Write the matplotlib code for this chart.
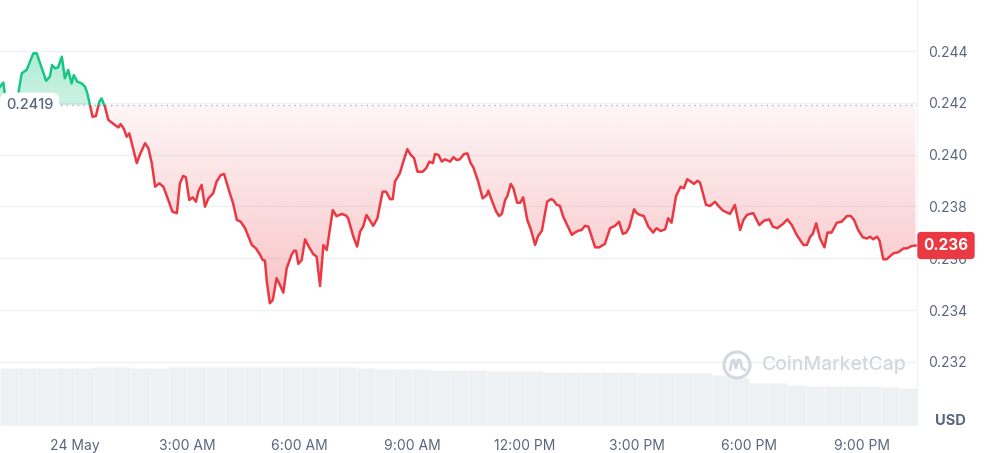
import matplotlib
matplotlib.use("Agg")
import matplotlib.pyplot as plt
import numpy as np
from matplotlib.patches import Rectangle, PathPatch, Ellipse
from matplotlib.path import Path
from matplotlib.lines import Line2D
import matplotlib.transforms as mtransforms

plt.rcParams['font.family'] = ['Inter', 'DejaVu Sans']

# ---------------- data ----------------
# time in hours relative to 24 May 00:00
hours = [
    -2.00, -1.91, -1.84, -1.73, -1.63, -1.51, -1.42, -1.29, -1.11, -1.02,
    -0.93, -0.77, -0.67, -0.61, -0.53, -0.45, -0.35, -0.27, -0.18, -0.09,
    -0.03, 0.06, 0.18, 0.27, 0.33, 0.40, 0.47, 0.56, 0.65, 0.71,
    0.80, 0.89, 1.07, 1.16, 1.22, 1.31, 1.38, 1.45, 1.54, 1.65,
    1.73, 1.87, 1.96, 2.05, 2.14, 2.25, 2.36, 2.49, 2.60, 2.72,
    2.80, 2.89, 2.96, 3.05, 3.14, 3.23, 3.29, 3.38, 3.47, 3.56,
    3.69, 3.78, 3.89, 3.98, 4.12, 4.22, 4.32, 4.42, 4.54, 4.72,
    4.83, 4.94, 5.01, 5.07, 5.12, 5.20, 5.28, 5.38, 5.47, 5.56,
    5.65, 5.78, 5.85, 5.90, 5.96, 6.05, 6.14, 6.25, 6.36, 6.45,
    6.54, 6.63, 6.72, 6.88, 6.98, 7.12, 7.23, 7.29, 7.43, 7.53,
    7.61, 7.69, 7.78, 7.96, 8.07, 8.21, 8.30, 8.41, 8.48, 8.54,
    8.67, 8.75, 8.87, 8.96, 9.05, 9.14, 9.28, 9.37, 9.46, 9.55,
    9.61, 9.70, 9.79, 9.87, 10.01, 10.10, 10.19, 10.27, 10.38, 10.47,
    10.56, 10.63, 10.76, 10.88, 10.99, 11.03, 11.12, 11.24, 11.32, 11.39,
    11.48, 11.54, 11.63, 11.70, 11.80, 11.88, 11.96, 12.07, 12.17, 12.28,
    12.36, 12.46, 12.60, 12.70, 12.76, 12.86, 12.94, 13.03, 13.26, 13.34,
    13.43, 13.52, 13.61, 13.70, 13.76, 13.88, 13.99, 14.14, 14.28, 14.41,
    14.52, 14.62, 14.71, 14.79, 14.92, 14.99, 15.08, 15.18, 15.30, 15.43,
    15.52, 15.63, 15.75, 15.83, 15.92, 16.04, 16.16, 16.25, 16.34, 16.43,
    16.52, 16.61, 16.68, 16.84, 16.95, 17.08, 17.17, 17.29, 17.48, 17.61,
    17.75, 17.84, 17.93, 18.01, 18.10, 18.26, 18.39, 18.53, 18.62, 18.74,
    18.89, 19.01, 19.13, 19.26, 19.44, 19.53, 19.62, 19.69, 19.78, 19.88,
    20.00, 20.08, 20.19, 20.33, 20.46, 20.60, 20.70, 20.79, 20.90, 21.02,
    21.13, 21.22, 21.30, 21.40, 21.47, 21.57, 21.66, 21.84, 21.97, 22.11,
    22.20, 22.33, 22.43]

prices = [
    0.24262, 0.24278, 0.24199, 0.24195, 0.24211, 0.24237, 0.24314, 0.24327, 0.24391, 0.24391,
    0.24353, 0.24285, 0.24301, 0.24346, 0.24333, 0.24337, 0.24378, 0.24295, 0.24327, 0.24275,
    0.24307, 0.24282, 0.24275, 0.24262, 0.24237, 0.24192, 0.24146, 0.24149, 0.24204, 0.24217,
    0.24185, 0.24134, 0.24114, 0.24105, 0.24118, 0.24098, 0.24069, 0.24082, 0.24031, 0.23967,
    0.23999, 0.24044, 0.24024, 0.23967, 0.23876, 0.23889, 0.23876, 0.23825, 0.23780, 0.23774,
    0.23889, 0.23918, 0.23912, 0.23825, 0.23835, 0.23818, 0.23857, 0.23883, 0.23799, 0.23831,
    0.23851, 0.23896, 0.23921, 0.23925, 0.23857, 0.23812, 0.23748, 0.23741, 0.23716, 0.23651,
    0.23638, 0.23613, 0.23593, 0.23591, 0.23510, 0.23426, 0.23439, 0.23523, 0.23497, 0.23467,
    0.23561, 0.23613, 0.23629, 0.23629, 0.23578, 0.23593, 0.23673, 0.23642, 0.23616, 0.23606,
    0.23493, 0.23651, 0.23632, 0.23786, 0.23762, 0.23771, 0.23765, 0.23754, 0.23683, 0.23645,
    0.23703, 0.23722, 0.23767, 0.23725, 0.23754, 0.23857, 0.23857, 0.23828, 0.23828, 0.23896,
    0.23928, 0.23967, 0.24021, 0.23999, 0.23986, 0.23934, 0.23934, 0.23947, 0.23973, 0.23967,
    0.24002, 0.23999, 0.23973, 0.23982, 0.23973, 0.23990, 0.23979, 0.23982, 0.24002, 0.24005,
    0.23967, 0.23951, 0.23896, 0.23831, 0.23844, 0.23861, 0.23825, 0.23780, 0.23763, 0.23771,
    0.23825, 0.23840, 0.23887, 0.23870, 0.23814, 0.23814, 0.23835, 0.23748, 0.23709, 0.23651,
    0.23686, 0.23706, 0.23818, 0.23828, 0.23825, 0.23806, 0.23802, 0.23760, 0.23690, 0.23699,
    0.23706, 0.23709, 0.23725, 0.23722, 0.23696, 0.23642, 0.23642, 0.23655, 0.23716, 0.23725,
    0.23741, 0.23694, 0.23699, 0.23719, 0.23789, 0.23774, 0.23767, 0.23763, 0.23722, 0.23699,
    0.23716, 0.23705, 0.23712, 0.23754, 0.23737, 0.23840, 0.23876, 0.23870, 0.23905, 0.23896,
    0.23887, 0.23899, 0.23892, 0.23806, 0.23802, 0.23818, 0.23802, 0.23784, 0.23771, 0.23806,
    0.23709, 0.23748, 0.23767, 0.23771, 0.23774, 0.23728, 0.23745, 0.23750, 0.23722, 0.23716,
    0.23732, 0.23750, 0.23728, 0.23690, 0.23651, 0.23651, 0.23683, 0.23694, 0.23735, 0.23677,
    0.23642, 0.23699, 0.23699, 0.23737, 0.23741, 0.23763, 0.23763, 0.23748, 0.23709, 0.23681,
    0.23676, 0.23683, 0.23673, 0.23683, 0.23668, 0.23596, 0.23596, 0.23619, 0.23623, 0.23638,
    0.23638, 0.23647, 0.23649]

baseline = 0.2419

# volume bars (30-minute buckets, millions USD, estimated)
vol_hours = [
    -1.75, -1.25, -0.75, -0.25, 0.25, 0.75, 1.25, 1.75, 2.25, 2.75,
    3.25, 3.75, 4.25, 4.75, 5.25, 5.75, 6.25, 6.75, 7.25, 7.75,
    8.25, 8.75, 9.25, 9.75, 10.25, 10.75, 11.25, 11.75, 12.25, 12.75,
    13.25, 13.75, 14.25, 14.75, 15.25, 15.75, 16.25, 16.75, 17.25, 17.75,
    18.25, 18.75, 19.25, 19.75, 20.25, 20.75, 21.25, 21.75, 22.25]
volumes = [
    230, 230, 230, 230, 230, 231, 231, 230, 230, 232,
    233, 233, 233, 233, 234, 233, 232, 232, 232, 230,
    224, 223, 223, 222, 221, 220, 218, 217, 216, 214,
    213, 213, 213, 212, 210, 207, 207, 209, 200, 188,
    170, 167, 160, 157, 156, 155, 155, 152, 148]

x_ticks = [0, 3, 6, 9, 12, 15, 18, 21]
x_labels = ["24 May", "3:00 AM", "6:00 AM", "9:00 AM", "12:00 PM",
            "3:00 PM", "6:00 PM", "9:00 PM"]
y_ticks = [0.232, 0.234, 0.236, 0.238, 0.240, 0.242, 0.244]

# ---------------- style ----------------
GREEN = '#16c784'
RED = '#ea3943'
TXT = '#58667e'
GRID = '#eff2f5'

W, H = 985, 453
fig = plt.figure(figsize=(W / 100, H / 100), dpi=100)
fig.patch.set_facecolor('white')

ax = fig.add_axes([0, 28 / H, 917 / W, 425 / H])
ax_vol = ax.twinx()
ax_vol.set_zorder(1)
ax.set_zorder(2)
ax.patch.set_visible(False)

xmin, xmax = -2.0, 22.47
ymin, ymax = 0.22956, 0.24597
ax.set_xlim(xmin, xmax)
ax.set_ylim(ymin, ymax)

h = np.array(hours)
p = np.array(prices)

# volume
ax_vol.bar(vol_hours, volumes, width=0.5, color='#eef1f4',
           edgecolor='#f6f7f9', linewidth=0.4)
ax_vol.set_ylim(0, 1700)
ax_vol.set_yticks([])
for s in ax_vol.spines.values():
    s.set_visible(False)

# gradient fills
def gradient_fill(where, lo, hi, rgb, a_lo, a_hi):
    poly = ax.fill_between(h, p, baseline, where=where, interpolate=True,
                           facecolor='none', edgecolor='none')
    paths = poly.get_paths()
    if not paths:
        return
    cpath = Path.make_compound_path(*paths)
    patch = PathPatch(cpath, transform=ax.transData, facecolor='none', edgecolor='none')
    ax.add_patch(patch)
    n = 256
    grad = np.zeros((n, 1, 4))
    c = matplotlib.colors.to_rgb(rgb)
    grad[:, 0, 0] = c[0]
    grad[:, 0, 1] = c[1]
    grad[:, 0, 2] = c[2]
    grad[:, 0, 3] = np.linspace(a_lo, a_hi, n)
    im = ax.imshow(grad, extent=[xmin, xmax, lo, hi], aspect='auto',
                   origin='lower', zorder=1, interpolation='bilinear')
    im.set_clip_path(patch)

gradient_fill(p >= baseline, baseline, p.max(), GREEN, 0.22, 0.34)
gradient_fill(p <= baseline, p.min(), baseline, RED, 0.30, 0.05)
ax.set_xlim(xmin, xmax)
ax.set_ylim(ymin, ymax)

# line split at baseline
lg, = ax.plot(h, p, color=GREEN, lw=1.8, zorder=4, solid_joinstyle='round')
lg.set_clip_path(Rectangle((xmin, baseline), xmax - xmin, ymax - baseline,
                           transform=ax.transData))
lr, = ax.plot(h, p, color=RED, lw=1.8, zorder=4, solid_joinstyle='round')
lr.set_clip_path(Rectangle((xmin, ymin), xmax - xmin, baseline - ymin,
                           transform=ax.transData))

# baseline dotted
ax.axhline(baseline, xmin=55 / 917, xmax=1, color='#a9b1bf', lw=1.0,
           ls=(0, (1, 3)), zorder=3)

# baseline label
blend = mtransforms.blended_transform_factory(ax.transAxes, ax.transData)
ax.text(6 / 917, baseline, f"{baseline:.4f}", transform=blend, ha='left', va='center',
        fontsize=10.5, color=TXT, fontweight='medium', zorder=6,
        bbox=dict(boxstyle='round,pad=0.4,rounding_size=0.5', fc='white', ec='none'))

# grid / axes
ax.set_yticks(y_ticks)
ax.set_yticklabels([f"{v:.3f}" for v in y_ticks])
ax.yaxis.tick_right()
ax.grid(axis='y', color=GRID, lw=1, zorder=0)
ax.set_axisbelow(True)
ax.tick_params(axis='y', length=0, pad=8, labelsize=10, labelcolor=TXT)
ax.set_xticks(x_ticks)
ax.set_xticklabels(x_labels)
ax.tick_params(axis='x', length=0, pad=10, labelsize=10, labelcolor=TXT)
for k, s in ax.spines.items():
    s.set_visible(False)
ax.spines['right'].set_visible(True)
ax.spines['right'].set_color(GRID)
ax.spines['bottom'].set_visible(True)
ax.spines['bottom'].set_color('#f3f5f7')

# current price tag
ax.text(1 + 29 / 917, p[-1], f"{p[-1]:.3f}", transform=blend, ha='center', va='center',
        fontsize=11, color='white', fontweight='bold', zorder=10, clip_on=False,
        bbox=dict(boxstyle='round,pad=0.4,rounding_size=0.25', fc=RED, ec='none'))

# USD label
fig.text(950 / W, 1 - 421 / H, "USD", ha='center', va='center', fontsize=10.5,
         fontweight='bold', color=TXT)

# watermark
WM = '#d3d8df'
cx, cy = 737, 365
fig.add_artist(Ellipse((cx / W, 1 - cy / H), 26 / W, 26 / H, transform=fig.transFigure,
                       fill=False, ec=WM, lw=2.2, zorder=20))
mx = [-7, -5, -3, -1, 1, 3, 5, 8]
my = [-5, 4, 5, -3, 5, 5, -3, -5]
fig.add_artist(Line2D([(cx + a) / W for a in mx], [1 - (cy - b) / H for b in my],
                      transform=fig.transFigure, color=WM, lw=2.0, zorder=20,
                      solid_joinstyle='round', solid_capstyle='round'))
fig.text(762 / W, 1 - cy / H, "CoinMarketCap", ha='left', va='center', fontsize=14,
         fontweight='medium', color=WM, zorder=20)

fig.savefig("out.png", dpi=100, facecolor='white')
